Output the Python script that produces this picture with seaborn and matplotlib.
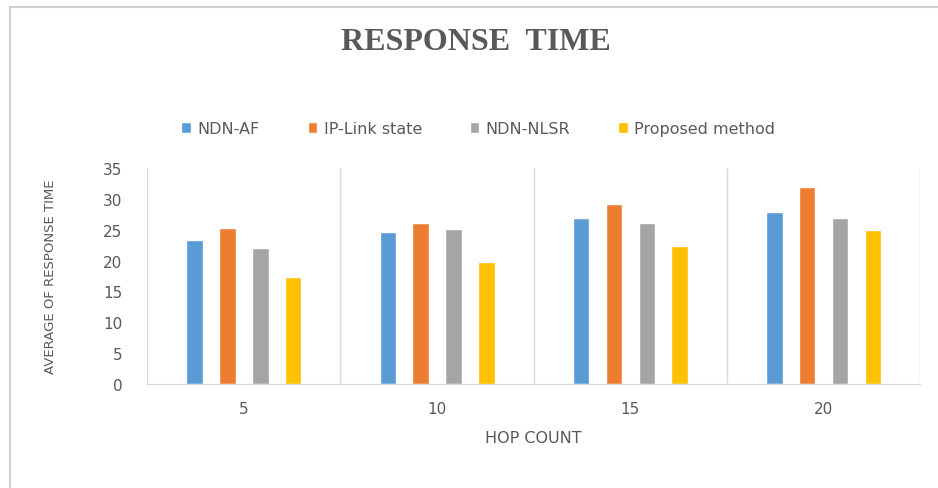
import numpy as np
import pandas as pd
import matplotlib
matplotlib.use("Agg")
import matplotlib.pyplot as plt
import seaborn as sns
from matplotlib.lines import Line2D

# Podaci ocitani sa slike
hop_count = ["5", "10", "15", "20"]
methods = ["NDN-AF", "IP-Link state", "NDN-NLSR", "Proposed method"]
ndn_af = [23.4, 24.7, 26.9, 27.9]
ip_link = [25.3, 26.1, 29.1, 32.0]
ndn_nlsr = [22.0, 25.1, 26.1, 26.9]
proposed = [17.4, 19.8, 22.3, 25.0]
colors = ["#5B9BD5", "#ED7D31", "#A5A5A5", "#FFC000"]

df = pd.DataFrame({
    "hop": hop_count * 4,
    "method": np.repeat(methods, 4),
    "value": ndn_af + ip_link + ndn_nlsr + proposed,
})

sns.set_style("white")
plt.rcParams["font.family"] = ["DejaVu Sans"]

fig = plt.figure(figsize=(9.38, 4.89), dpi=100)
ax = fig.add_axes([0.157, 0.2127, 0.824, 0.4417])

sns.barplot(data=df, x="hop", y="value", hue="method", palette=colors,
            width=0.68, gap=0.5, ax=ax, saturation=1)

ax.set_ylim(0, 35)
ax.set_xlim(-0.5, 3.5)
ax.set_yticks(range(0, 36, 5))
ax.set_xticks(range(4))
ax.set_xticklabels(hop_count)
ax.tick_params(axis="both", length=0, labelsize=11, labelcolor="#595959")
ax.tick_params(axis="y", pad=18)
ax.tick_params(axis="x", pad=12)

# vertikalne linije izmedu kategorija
for xb in [-0.5, 0.5, 1.5, 2.5, 3.5]:
    ax.axvline(xb, color="#D9D9D9", lw=1, zorder=0)

for s in ["top", "right", "left"]:
    ax.spines[s].set_visible(False)
ax.spines["bottom"].set_color("#D9D9D9")

ax.set_xlabel("HOP COUNT", fontsize=11.5, color="#595959", labelpad=10)
ax.set_ylabel("AVERAGE OF RESPONSE TIME", fontsize=9.5, color="#595959",
              labelpad=33, family=["Liberation Sans Narrow", "DejaVu Sans"])

handles, labels = ax.get_legend_handles_labels()
ax.get_legend().remove()
fig.legend(handles, labels, loc="center", bbox_to_anchor=(0.51, 0.735), ncol=4,
           frameon=False, fontsize=11.5, labelcolor="#595959",
           handlelength=0.6, handleheight=0.6, handletextpad=0.4, columnspacing=3.0)

fig.text(0.507, 0.913, "RESPONSE  TIME", ha="center", va="center",
         fontsize=23, fontweight="bold", color="#595959", family="Liberation Serif")

# okvir slike
fig.add_artist(Line2D([0.011, 1.0], [0.983, 0.983], color="#D0D0D0", lw=1.5))
fig.add_artist(Line2D([0.011, 0.011], [0.0, 0.983], color="#D0D0D0", lw=1.5))

fig.savefig("out.png", dpi=100)
